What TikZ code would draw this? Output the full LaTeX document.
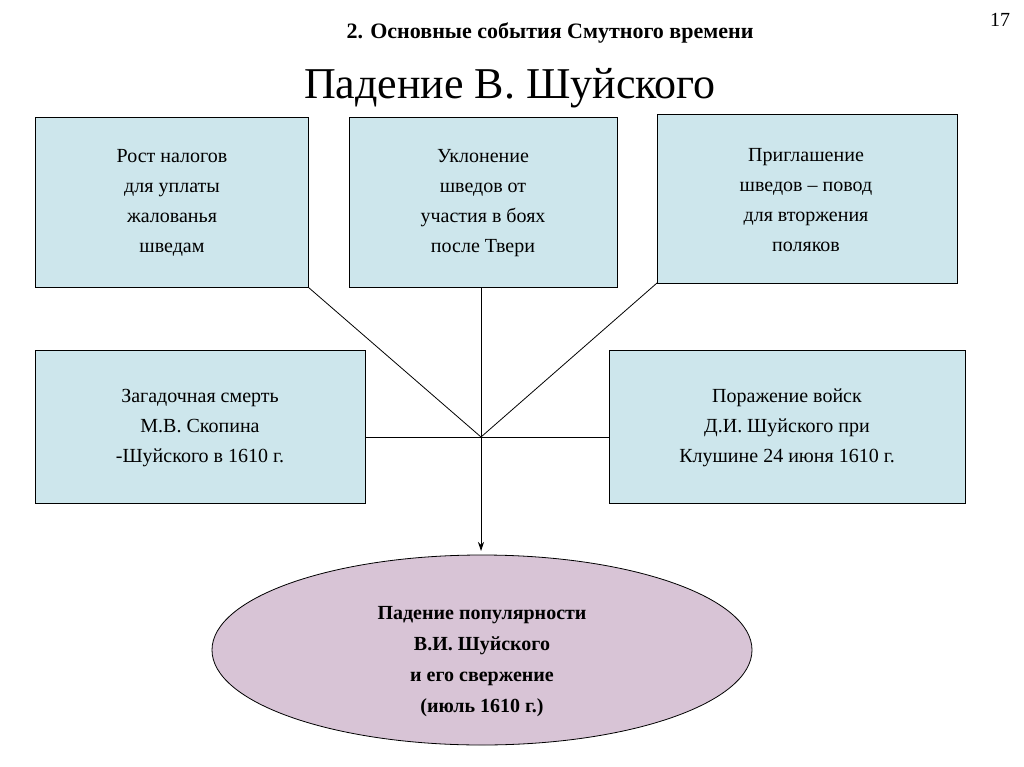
\documentclass[tikz,border=0pt]{standalone}
\usepackage{fontspec}
\setmainfont{Liberation Serif}
\usetikzlibrary{arrows.meta}
\definecolor{boxblue}{RGB}{205,230,236}
\definecolor{ellpink}{RGB}{216,196,214}
\begin{document}
\begin{tikzpicture}[x=1pt,y=-1pt,
  box/.style={draw=black,fill=boxblue,line width=0.8pt},
  btxt/.style={align=center,font=\fontsize{20}{30}\selectfont},
  conn/.style={line width=0.8pt}]
\useasboundingbox (0,0) rectangle (1024,767);
\node at (1000,20) {\fontsize{20}{24}\selectfont 17};
\node (sub) at (550,33) {\fontsize{22}{26}\selectfont\bfseries 2. Основные события Смутного времени};
\node (title) at (510,88) {\fontsize{44}{50}\selectfont Падение В. Шуйского};
\draw[box] (35,117) rectangle (308,287);
\node[btxt] (b1) at (172,203) {Рост налогов\\ для уплаты\\ жалованья\\ шведам};
\draw[box] (349,117) rectangle (617,287);
\node[btxt] (b2) at (483,203) {Уклонение\\ шведов от\\ участия  в боях\\ после Твери};
\draw[box] (657,114) rectangle (957,283);
\node[btxt] (b3) at (806,200) {Приглашение\\ шведов – повод\\ для вторжения\\ поляков};
\draw[box] (35,350) rectangle (365,503);
\node[btxt] (b4) at (200,428) {Загадочная смерть\\ М.В. Скопина\\ -Шуйского в 1610 г.};
\draw[box] (609,350) rectangle (965,503);
\node[btxt] (b5) at (787,428) {Поражение войск\\ Д.И. Шуйского при\\ Клушине 24 июня 1610 г.};
\draw[fill=ellpink,draw=black,line width=0.8pt] (482,650) ellipse [x radius=270,y radius=95];
\node[align=center,font=\fontsize{20}{31}\selectfont\bfseries] (e) at (482,662) {Падение популярности\\ В.И. Шуйского\\ и его свержение\\ (июль 1610 г.)};
\coordinate (hub) at (481,437);
\coordinate (c1) at (308,287);
\coordinate (c2) at (481,287);
\coordinate (c3) at (657,283);
\coordinate (c4) at (365,437);
\coordinate (c5) at (609,437);
\coordinate (tip) at (481,551);
\draw[conn] (c1) -- (hub);
\draw[conn] (c2) -- (hub);
\draw[conn] (c3) -- (hub);
\draw[conn] (c4) -- (c5);
\draw[conn,-{Stealth[length=9pt,width=6pt]}] (hub) -- (tip);
\end{tikzpicture}
\end{document}
